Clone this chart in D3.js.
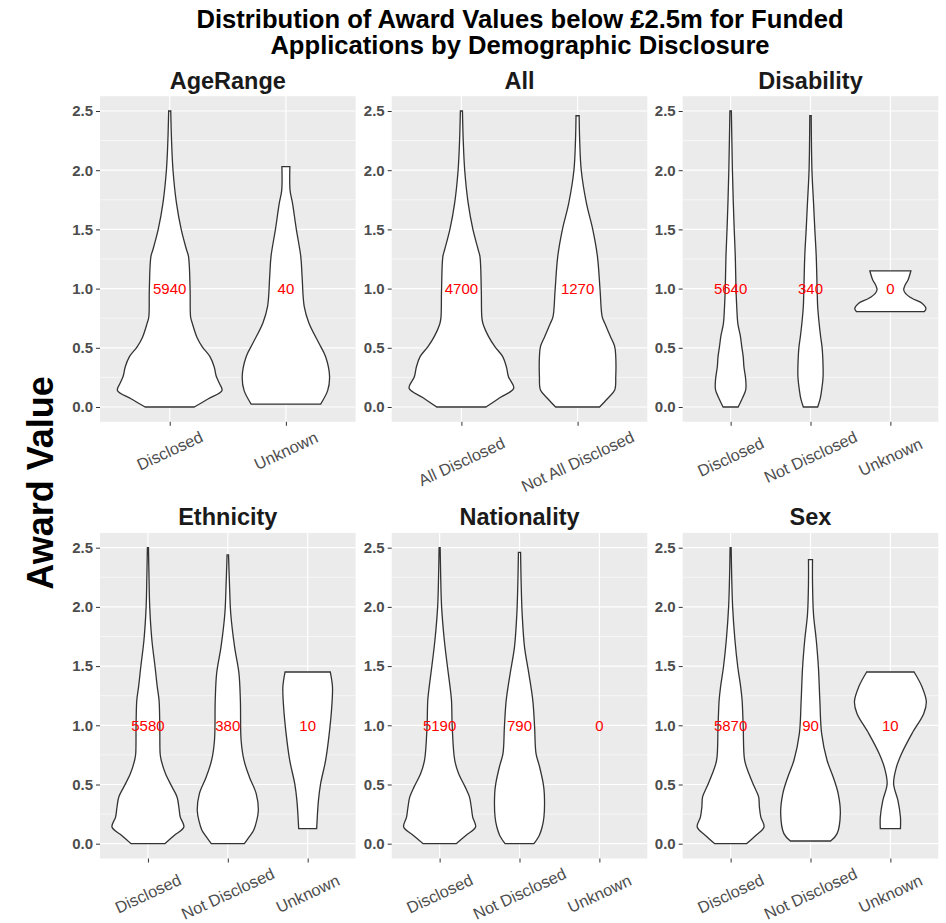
<!DOCTYPE html>
<html>
<head>
<meta charset="utf-8">
<script src="https://cdn.jsdelivr.net/npm/d3@7"></script>
<style>
  html, body { margin: 0; padding: 0; background: #ffffff; }
  svg { display: block; font-family: "Liberation Sans", Arial, Helvetica, sans-serif; }
</style>
</head>
<body>
<svg id="chart" width="946" height="923"></svg>
<script>
// ---- Data -------------------------------------------------------------
const titleLines = [
  "Distribution of Award Values below £2.5m for Funded",
  "Applications by Demographic Disclosure"
];
const yAxisTitle = "Award Value";
const yTicks = [0, 0.5, 1.0, 1.5, 2.0, 2.5];
const yMinorTicks = [0.25, 0.75, 1.25, 1.75, 2.25];
const countLabelValue = 1.0;

// Violin outlines: [award value (£m), relative half-width]
const ageDisclosed = [[0,0.47],[0.07,0.74],[0.14,1.0],[0.2,0.95],[0.26,0.89],[0.34,0.85],[0.425,0.77],[0.51,0.62],[0.59,0.52],[0.71,0.43],[0.76,0.4],[0.99,0.39],[1.27,0.36],[1.33,0.32],[1.5,0.22],[1.72,0.13],[2.0,0.063],[2.25,0.035],[2.5,0.02]];
const ageUnknown = [[0.025,0.665],[0.14,0.8],[0.26,0.835],[0.425,0.76],[0.54,0.63],[0.71,0.44],[0.85,0.35],[1.1,0.31],[1.27,0.285],[1.5,0.2],[1.72,0.127],[1.83,0.08],[2.03,0.076]];

const allDisclosed = [[0,0.47],[0.08,0.74],[0.158,1.0],[0.256,0.9],[0.34,0.86],[0.425,0.79],[0.51,0.64],[0.594,0.52],[0.707,0.41],[0.763,0.39],[0.988,0.38],[1.27,0.355],[1.33,0.32],[1.5,0.22],[1.72,0.13],[2.0,0.063],[2.25,0.035],[2.5,0.02]];
const allNotDisclosed = [[0,0.42],[0.07,0.57],[0.144,0.71],[0.256,0.73],[0.425,0.73],[0.51,0.71],[0.594,0.63],[0.707,0.52],[0.763,0.47],[0.988,0.43],[1.27,0.38],[1.5,0.29],[1.72,0.17],[2.0,0.07],[2.25,0.04],[2.46,0.03]];

const disDisclosed = [[0,0.21],[0.07,0.32],[0.144,0.42],[0.23,0.42],[0.34,0.37],[0.425,0.35],[0.51,0.31],[0.6,0.27],[0.707,0.2],[0.847,0.17],[0.988,0.15],[1.27,0.13],[1.5,0.1],[1.72,0.075],[2.0,0.05],[2.5,0.02]];
const disNotDisclosed = [[0,0.2],[0.07,0.27],[0.144,0.31],[0.256,0.35],[0.425,0.34],[0.51,0.32],[0.6,0.28],[0.707,0.24],[0.847,0.2],[0.988,0.185],[1.27,0.16],[1.5,0.12],[1.72,0.085],[2.0,0.04],[2.46,0.02]];
const disUnknown = [[0.805,0.94],[0.83,0.99],[0.876,0.88],[0.918,0.6],[0.96,0.42],[0.99,0.37],[1.03,0.41],[1.073,0.49],[1.149,0.57]];

const ethDisclosed = [[0,0.47],[0.07,0.73],[0.141,1.0],[0.225,0.9],[0.31,0.86],[0.395,0.81],[0.48,0.67],[0.59,0.49],[0.705,0.37],[0.76,0.34],[0.99,0.33],[1.21,0.31],[1.325,0.26],[1.49,0.2],[1.72,0.11],[2.0,0.05],[2.25,0.03],[2.5,0.015]];
const ethNotDisclosed = [[0,0.46],[0.06,0.6],[0.113,0.72],[0.19,0.8],[0.282,0.85],[0.423,0.79],[0.564,0.6],[0.705,0.45],[0.874,0.37],[1.21,0.35],[1.44,0.31],[1.66,0.19],[1.94,0.083],[2.2,0.046],[2.44,0.02]];
const ethUnknown = [[0.127,0.25],[0.366,0.3],[0.507,0.36],[0.705,0.5],[0.93,0.6],[1.156,0.67],[1.325,0.69],[1.45,0.63]];

const natDisclosed = [[0,0.46],[0.07,0.73],[0.141,1.0],[0.225,0.92],[0.31,0.88],[0.395,0.83],[0.48,0.71],[0.59,0.53],[0.705,0.42],[0.99,0.35],[1.21,0.33],[1.325,0.29],[1.49,0.22],[1.72,0.13],[2.0,0.055],[2.25,0.03],[2.5,0.015]];
const natNotDisclosed = [[0,0.4],[0.07,0.55],[0.141,0.63],[0.225,0.68],[0.423,0.69],[0.507,0.66],[0.648,0.56],[0.761,0.46],[0.986,0.42],[1.21,0.37],[1.437,0.26],[1.66,0.14],[1.94,0.074],[2.2,0.046],[2.46,0.03]];

const sexDisclosed = [[0,0.44],[0.07,0.7],[0.141,0.93],[0.225,0.84],[0.31,0.8],[0.395,0.78],[0.48,0.66],[0.59,0.51],[0.705,0.39],[0.99,0.35],[1.21,0.32],[1.325,0.28],[1.49,0.2],[1.72,0.12],[2.0,0.056],[2.25,0.03],[2.5,0.015]];
const sexNotDisclosed = [[0.023,0.56],[0.085,0.74],[0.254,0.83],[0.423,0.77],[0.564,0.63],[0.705,0.46],[0.93,0.31],[1.21,0.26],[1.49,0.22],[1.72,0.16],[1.94,0.083],[2.2,0.056],[2.4,0.056]];
const sexUnknown = [[0.127,0.28],[0.225,0.28],[0.366,0.21],[0.507,0.09],[0.648,0.17],[0.76,0.31],[0.93,0.6],[1.1,0.93],[1.2,1.0],[1.325,0.88],[1.45,0.66]];

const facetNames = ["AgeRange", "All", "Disability", "Ethnicity", "Nationality", "Sex"];

const ageRangeGroups = ["Disclosed", "Unknown"];
const ageRangeCounts = [5940, 40];
const allGroups = ["All Disclosed", "Not All Disclosed"];
const allCounts = [4700, 1270];
const disabilityGroups = ["Disclosed", "Not Disclosed", "Unknown"];
const disabilityCounts = [5640, 340, 0];
const ethnicityGroups = ["Disclosed", "Not Disclosed", "Unknown"];
const ethnicityCounts = [5580, 380, 10];
const nationalityGroups = ["Disclosed", "Not Disclosed", "Unknown"];
const nationalityCounts = [5190, 790, 0];
const sexGroups = ["Disclosed", "Not Disclosed", "Unknown"];
const sexCounts = [5870, 90, 10];

const facets = [
  { name: facetNames[0], groups: ageRangeGroups, counts: ageRangeCounts, shapes: [ageDisclosed, ageUnknown] },
  { name: facetNames[1], groups: allGroups, counts: allCounts, shapes: [allDisclosed, allNotDisclosed] },
  { name: facetNames[2], groups: disabilityGroups, counts: disabilityCounts, shapes: [disDisclosed, disNotDisclosed, disUnknown] },
  { name: facetNames[3], groups: ethnicityGroups, counts: ethnicityCounts, shapes: [ethDisclosed, ethNotDisclosed, ethUnknown] },
  { name: facetNames[4], groups: nationalityGroups, counts: nationalityCounts, shapes: [natDisclosed, natNotDisclosed, null] },
  { name: facetNames[5], groups: sexGroups, counts: sexCounts, shapes: [sexDisclosed, sexNotDisclosed, sexUnknown] }
];

// ---- Layout -----------------------------------------------------------
const svg = d3.select("#chart");
const colLeft = [100, 391.7, 682.7];
const panelW = 255.6;
const rowTop = [96.2, 532.9];
const panelH = 325.6;
const bg = "#EBEBEB";
const inkGrey = "#4D4D4D";
const tickInk = "#333333";

// Main title
svg.append("g").selectAll("text").data(titleLines).join("text")
  .attr("x", 520)
  .attr("y", (d, i) => 27.5 + i * 26.5)
  .attr("text-anchor", "middle")
  .attr("font-weight", "bold")
  .attr("font-size", 25.6)
  .attr("fill", "#000")
  .text(d => d);

// Shared y-axis title
svg.append("text")
  .attr("transform", "translate(53,483) rotate(-90)")
  .attr("text-anchor", "middle")
  .attr("font-weight", "bold")
  .attr("font-size", 36)
  .attr("fill", "#000")
  .text(yAxisTitle);

const fmt = d3.format(".1f");

facets.forEach((f, idx) => {
  const col = idx % 3, row = Math.floor(idx / 3);
  const left = colLeft[col], top = rowTop[row];
  const g = svg.append("g");

  const y = d3.scaleLinear().domain([-0.125, 2.625]).range([top + panelH, top]);
  const x = d3.scalePoint().domain(f.groups).range([left, left + panelW]).padding(0.6);
  const halfMax = 0.45 * x.step();

  // Panel background and grid
  g.append("rect").attr("x", left).attr("y", top).attr("width", panelW).attr("height", panelH).attr("fill", bg);
  g.selectAll(".minor").data(yMinorTicks).join("line")
    .attr("x1", left).attr("x2", left + panelW)
    .attr("y1", d => y(d)).attr("y2", d => y(d))
    .attr("stroke", "#fff").attr("stroke-width", 0.6);
  g.selectAll(".major").data(yTicks).join("line")
    .attr("x1", left).attr("x2", left + panelW)
    .attr("y1", d => y(d)).attr("y2", d => y(d))
    .attr("stroke", "#fff").attr("stroke-width", 1.2);
  g.selectAll(".vmajor").data(f.groups).join("line")
    .attr("x1", d => x(d)).attr("x2", d => x(d))
    .attr("y1", top).attr("y2", top + panelH)
    .attr("stroke", "#fff").attr("stroke-width", 1.2);

  // Facet strip title
  g.append("text")
    .attr("x", left + panelW / 2).attr("y", top - 7.5)
    .attr("text-anchor", "middle").attr("font-weight", "bold")
    .attr("font-size", 23.5).attr("fill", "#1A1A1A")
    .text(f.name);

  // Y axis
  const yAxis = d3.axisLeft(y).tickValues(yTicks).tickFormat(fmt).tickSize(4).tickPadding(3);
  const ya = g.append("g").attr("transform", `translate(${left},0)`).call(yAxis);
  ya.select(".domain").remove();
  ya.selectAll(".tick line").attr("stroke", tickInk);
  ya.selectAll(".tick text")
    .attr("font-family", "Liberation Sans, Arial, sans-serif")
    .attr("font-size", 15).attr("font-weight", "bold").attr("fill", inkGrey);

  // X axis ticks and rotated labels
  const xAxis = d3.axisBottom(x).tickSize(4).tickFormat("");
  const xa = g.append("g").attr("transform", `translate(0,${top + panelH})`).call(xAxis);
  xa.select(".domain").remove();
  xa.selectAll(".tick line").attr("stroke", tickInk);

  const labels = g.append("g").selectAll("text").data(f.groups).join("text")
    .attr("text-anchor", "middle")
    .attr("font-size", 16.3).attr("fill", inkGrey)
    .attr("dy", "0.36em")
    .text(d => d);
  const ang = 25 * Math.PI / 180;
  let maxH = 0;
  labels.each(function () {
    const w = this.getComputedTextLength();
    maxH = Math.max(maxH, w * Math.sin(ang) + 12.8 * Math.cos(ang));
  });
  const cy = top + panelH + 8 + maxH / 2;
  labels.attr("transform", d => `translate(${x(d)},${cy}) rotate(-25)`);

  // Violins
  f.shapes.forEach((shape, i) => {
    if (!shape) return;
    const cx = x(f.groups[i]);
    const area = d3.area()
      .y(d => y(d[0]))
      .x0(d => cx - d[1] * halfMax)
      .x1(d => cx + d[1] * halfMax)
      .curve(d3.curveCatmullRom.alpha(0.5));
    g.append("path").datum(shape)
      .attr("d", area)
      .attr("fill", "#fff")
      .attr("stroke", tickInk)
      .attr("stroke-width", 1.3);
  });

  // Count labels
  g.append("g").selectAll("text").data(f.counts).join("text")
    .attr("x", (d, i) => x(f.groups[i]))
    .attr("y", y(countLabelValue))
    .attr("dy", "0.36em")
    .attr("text-anchor", "middle")
    .attr("font-size", 15)
    .attr("fill", "#FF0000")
    .text(d => d);
});
</script>
</body>
</html>
